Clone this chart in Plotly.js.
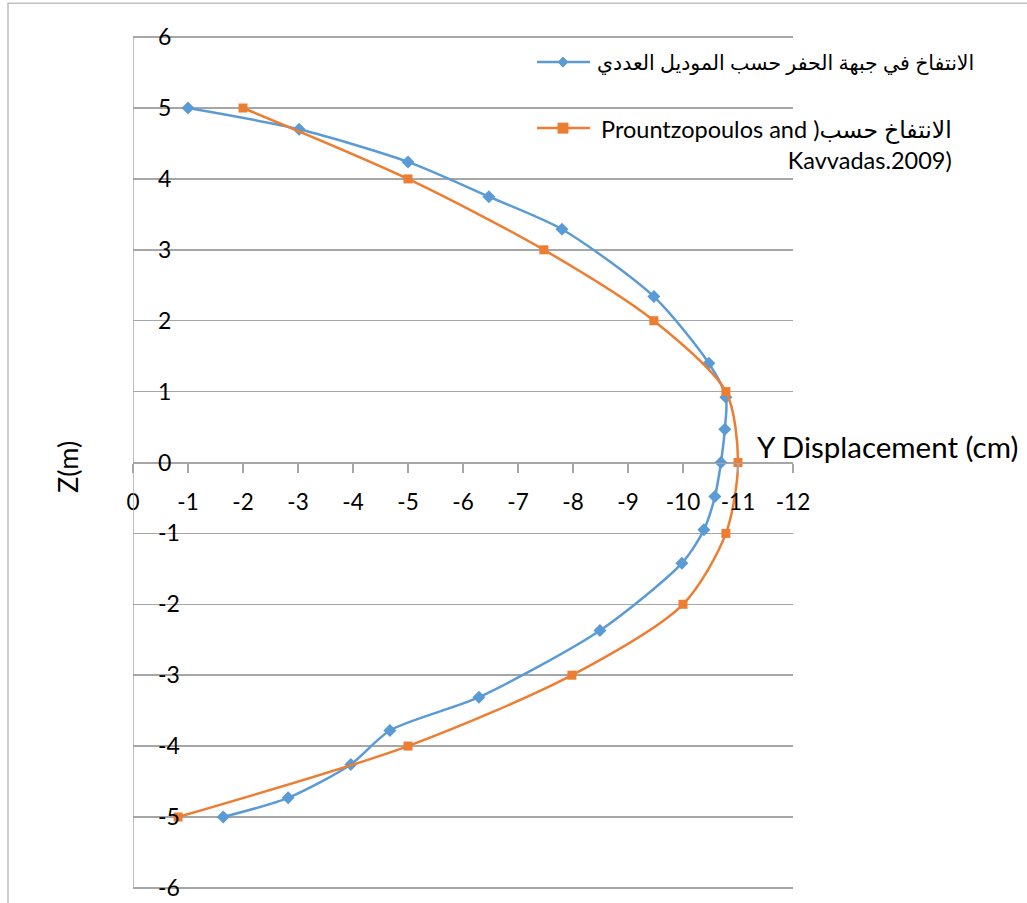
<!DOCTYPE html>
<html>
<head>
<meta charset="utf-8">
<script src="https://cdn.plot.ly/plotly-3.0.1.min.js"></script>
<style>html,body{margin:0;padding:0;background:#fff;}#chart{width:1027px;height:903px;}</style>
</head>
<body>
<div id="chart"></div>
<script>
// Numerical model series (blue)
const modelX = [-1, -3.02, -5, -6.47, -7.8, -9.47, -10.47, -10.78, -10.76, -10.69, -10.58, -10.38, -9.98, -8.49, -6.29, -4.67, -3.96, -2.82, -1.64];
const modelY = [5, 4.70, 4.24, 3.75, 3.29, 2.34, 1.40, 0.92, 0.47, 0, -0.48, -0.95, -1.42, -2.37, -3.31, -3.78, -4.26, -4.73, -5];
// Prountzopoulos and Kavvadas 2009 series (orange)
const refX = [-2, -5, -7.47, -9.47, -10.78, -11, -10.78, -10, -7.98, -5, -0.82];
const refY = [5, 4, 3, 2, 1, 0, -1, -2, -3, -4, -5];

const xTicks = [0, -1, -2, -3, -4, -5, -6, -7, -8, -9, -10, -11, -12];
const yTicks = [-6, -5, -4, -3, -2, -1, 0, 1, 2, 3, 4, 5, 6];

const name1 = "الانتفاخ في جبهة الحفر حسب الموديل العددي";
const name2line1 = "\u202Bالانتفاخ حسب( Prountzopoulos and\u202C";
const name2line2 = "Kavvadas.2009)";
const xTitle = "Y Displacement (cm)";
const yTitle = "Z(m)";

const blue = "#5B9BD5", orange = "#ED7D31", grid = "#A6A6A6";
const FONT = "Lato, 'DejaVu Sans', sans-serif";

const traces = [
  {x: modelX, y: modelY, name: name1, type: "scatter", mode: "lines+markers",
   line: {color: blue, width: 2.5, shape: "spline", smoothing: 0.75},
   marker: {symbol: "diamond", size: 10, color: blue}},
  {x: refX, y: refY, name: name2line1 + " " + name2line2, type: "scatter", mode: "lines+markers",
   line: {color: orange, width: 2.5, shape: "spline", smoothing: 0.8},
   marker: {symbol: "square", size: 9, color: orange}},
  // empty trace that only registers the label axis (y2)
  {x: [], y: [], yaxis: "y2", type: "scatter", mode: "markers", showlegend: false, hoverinfo: "skip"}
];

// target pixel frame: x 0..-12 -> 133..793, y 6..-6 -> 37..888
const L = 133, R = 793, T = 37, B = 888;
const EXT = 0.03;                       // tiny y-range extension so edge gridlines are kept
const upy = (B - T) / 12;
const mT = T - EXT * upy, mB = (903 - B) - EXT * upy;
const plotH = 903 - mT - mB;
const px = v => (v - L) / (R - L);
const py = v => (903 - mB - v) / plotH;
const yr = [-6 - EXT, 6 + EXT];

const layout = {
  width: 1027, height: 903,
  margin: {l: L, r: 1027 - R, t: mT, b: mB, pad: 0},
  paper_bgcolor: "#fff", plot_bgcolor: "#fff",
  showlegend: false,
  font: {family: FONT, size: 22, color: "#000"},
  xaxis: {
    range: [0, -12], tickvals: xTicks, ticktext: xTicks.map(String),
    showgrid: false, zeroline: false,
    showline: true, linecolor: grid, linewidth: 1.5,
    anchor: "free", position: py(463),
    ticks: "outside", ticklen: 9, tickcolor: grid, tickwidth: 1.5,
    ticklabelstandoff: 10,
    tickfont: {family: FONT, size: 22.5, color: "#000"}
  },
  yaxis: {
    range: yr, tickvals: yTicks, showticklabels: false,
    showgrid: true, gridcolor: grid, gridwidth: 1.5,
    zeroline: true, zerolinecolor: grid, zerolinewidth: 1.5,
    showline: false,
    ticks: "inside", ticklen: 9, tickcolor: grid, tickwidth: 1.5
  },
  yaxis2: {
    overlaying: "y", side: "right", anchor: "free", position: px(157),
    range: yr, tickvals: yTicks, ticktext: yTicks.map(String),
    showgrid: false, zeroline: false, showline: false, ticks: "",
    tickfont: {family: FONT, size: 23, color: "#000"}
  },
  shapes: [
    {type: "line", xref: "x", yref: "y", x0: 0, x1: 0, y0: -6, y1: 6,
     line: {color: grid, width: 1.5}},
    {type: "rect", xref: "paper", yref: "paper", x0: px(8), x1: px(1040), y0: py(920), y1: py(3),
     line: {color: "#BFBFBF", width: 1.5}, fillcolor: "rgba(0,0,0,0)", layer: "below"},
    {type: "line", xref: "paper", yref: "paper", x0: px(537), x1: px(590), y0: py(62), y1: py(62),
     line: {color: blue, width: 2.5}},
    {type: "path", xref: "paper", yref: "paper", xsizemode: "pixel", ysizemode: "pixel",
     xanchor: px(563), yanchor: py(62), path: "M-5,0 L0,5 L5,0 L0,-5 Z",
     fillcolor: blue, line: {color: blue, width: 1}},
    {type: "line", xref: "paper", yref: "paper", x0: px(537), x1: px(590), y0: py(128), y1: py(128),
     line: {color: orange, width: 2.5}},
    {type: "path", xref: "paper", yref: "paper", xsizemode: "pixel", ysizemode: "pixel",
     xanchor: px(563), yanchor: py(128), path: "M-5,-5 L5,-5 L5,5 L-5,5 Z",
     fillcolor: orange, line: {color: orange, width: 1}}
  ],
  annotations: [
    {xref: "paper", yref: "paper", x: px(976), y: py(62), xanchor: "right", yanchor: "middle",
     text: name1, showarrow: false, align: "right", font: {family: FONT, size: 20.5, color: "#000"}},
    {xref: "paper", yref: "paper", x: px(954), y: py(144), xanchor: "right", yanchor: "middle",
     text: name2line1 + "<br>" + name2line2, showarrow: false, align: "right",
     font: {family: FONT, size: 23.5, color: "#000"}},
    {xref: "paper", yref: "paper", x: px(1020), y: py(446), xanchor: "right", yanchor: "middle",
     text: xTitle, showarrow: false, font: {family: FONT, size: 29.5, color: "#000"}},
    {xref: "paper", yref: "paper", x: px(68), y: py(467), xanchor: "center", yanchor: "middle",
     text: yTitle, showarrow: false, textangle: -90, font: {family: FONT, size: 27, color: "#000"}}
  ]
};

Plotly.newPlot("chart", traces, layout, {staticPlot: true, displayModeBar: false});
</script>
</body>
</html>
